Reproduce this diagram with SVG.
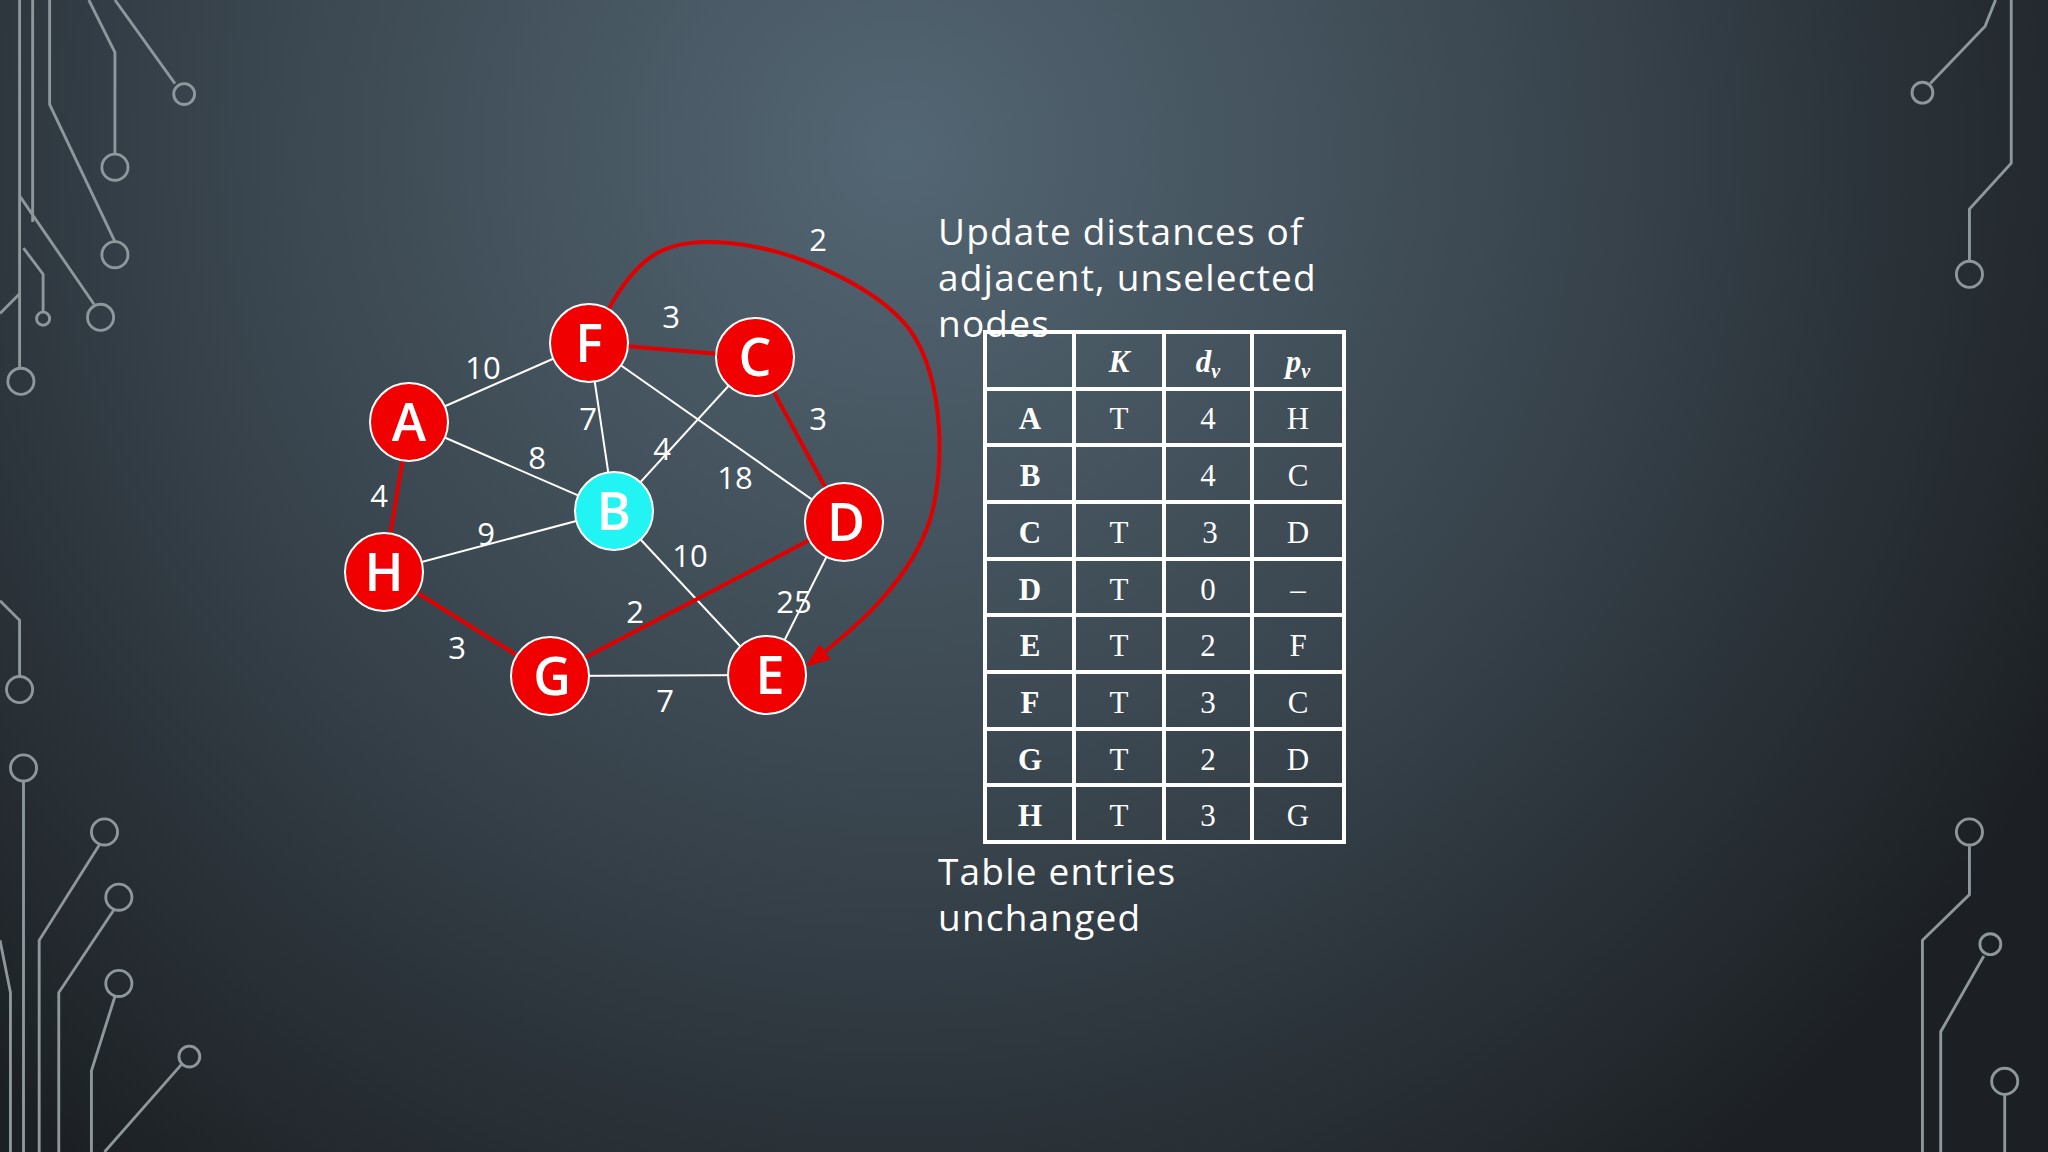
<svg xmlns="http://www.w3.org/2000/svg" width="2048" height="1152" viewBox="0 0 2048 1152">
<defs>
<radialGradient id="bg" cx="900" cy="150" r="1300" gradientUnits="userSpaceOnUse">
<stop offset="0" stop-color="#536673"/>
<stop offset="0.5" stop-color="#3a464f"/>
<stop offset="1" stop-color="#1c2024"/>
</radialGradient>
<marker id="arr" viewBox="0 0 10 10" refX="9" refY="5" markerWidth="6" markerHeight="6" orient="auto" markerUnits="strokeWidth">
<path d="M0,1 L10,5 L0,9 z" fill="#e00000"/>
</marker>
<style>
.w{stroke:#fff;stroke-width:2;fill:none}
.r{stroke:#e00000;stroke-width:4;fill:none}
.n{fill:#f00000;stroke:#fff;stroke-width:2}
.nl{font-family:"Open Sans","DejaVu Sans",sans-serif;font-size:52px;fill:#fff;text-anchor:middle;font-weight:600}
.el{font-family:"Open Sans","DejaVu Sans",sans-serif;font-size:31px;fill:#fff;text-anchor:middle}
.tx{font-family:"Open Sans","DejaVu Sans",sans-serif;font-size:37px;fill:#fff;letter-spacing:1.2px}
.tb{stroke:#fff;stroke-width:4;fill:none}
.tc{font-family:"Liberation Serif","Times New Roman",serif;font-size:31px;fill:#fff;text-anchor:middle}
.dc{stroke:#8e979c;stroke-width:2.2;fill:none}
</style>
</defs>
<rect width="2048" height="1152" fill="url(#bg)"/>
<g id="decor" class="dc" transform="scale(1.306)">
<path d="M15,0V282M25,0V170M38,0V80L88,185M68,0L88,40V118M88,0L134,64M15,150L72,233M18,190L33,210V239M0,240L15,225"/>
<circle cx="16" cy="292" r="10"/><circle cx="88" cy="195" r="10"/><circle cx="88" cy="128" r="10"/><circle cx="141" cy="72" r="8"/><circle cx="77" cy="243" r="10"/><circle cx="33" cy="244" r="5"/>
<path d="M1528,0L1520,20L1478,64M1540,0V125L1508,160V200"/>
<circle cx="1472" cy="71" r="8"/><circle cx="1508" cy="210" r="10"/>
<path d="M0,460L15,475V518M18,598V882M30,882V720L76,647M45,882V760L87,697M70,882V820L88,763M80,882L139,815M0,720L8,760V882"/>
<circle cx="15" cy="528" r="10"/><circle cx="18" cy="588" r="10"/><circle cx="80" cy="637" r="10"/><circle cx="91" cy="687" r="10"/><circle cx="91" cy="753" r="10"/><circle cx="145" cy="809" r="8"/>
<path d="M1472,882V720L1508,685V648M1486,882V790L1519,732M1535,882V838"/>
<circle cx="1508" cy="637" r="10"/><circle cx="1524" cy="723" r="8"/><circle cx="1535" cy="828" r="10"/>
</g>
<g id="connectors">
<line class="w" x1="409" y1="422" x2="589" y2="343"/>
<line class="w" x1="409" y1="422" x2="614" y2="511"/>
<line class="w" x1="589" y1="343" x2="614" y2="511"/>
<line class="w" x1="755" y1="357" x2="614" y2="511"/>
<line class="w" x1="589" y1="343" x2="844" y2="522"/>
<line class="w" x1="384" y1="572" x2="614" y2="511"/>
<line class="w" x1="614" y1="511" x2="767" y2="675"/>
<line class="w" x1="844" y1="522" x2="767" y2="675"/>
<line class="w" x1="550" y1="676" x2="767" y2="675"/>
<line class="r" x1="589" y1="343" x2="755" y2="357"/>
<line class="r" x1="755" y1="357" x2="844" y2="522"/>
<line class="r" x1="409" y1="422" x2="384" y2="572"/>
<line class="r" x1="384" y1="572" x2="550" y2="676"/>
<line class="r" x1="550" y1="676" x2="844" y2="522"/>
<path class="r" d="M607,312 C640,250 670,238 730,243 C800,250 880,290 910,330 C945,380 945,470 930,520 C910,580 860,625 808,665" marker-end="url(#arr)"/>
</g>
<g id="edge-labels">
<text class="el" x="818" y="251">2</text>
<text class="el" x="671" y="328">3</text>
<text class="el" x="483" y="379">10</text>
<text class="el" x="588" y="430">7</text>
<text class="el" x="818" y="430">3</text>
<text class="el" x="537" y="469">8</text>
<text class="el" x="662" y="460">4</text>
<text class="el" x="735" y="489">18</text>
<text class="el" x="379" y="507">4</text>
<text class="el" x="486" y="545">9</text>
<text class="el" x="690" y="567">10</text>
<text class="el" x="794" y="613">25</text>
<text class="el" x="635" y="623">2</text>
<text class="el" x="457" y="659">3</text>
<text class="el" x="665" y="712">7</text>
</g>
<g id="node-F"><circle class="n" cx="589" cy="343" r="39"/><text class="nl" x="589" y="362">F</text></g>
<g id="node-C"><circle class="n" cx="755" cy="357" r="39"/><text class="nl" x="755" y="376">C</text></g>
<g id="node-A"><circle class="n" cx="409" cy="422" r="39"/><text class="nl" x="409" y="441">A</text></g>
<g id="node-B"><circle cx="614" cy="511" r="39" fill="#22f4f4" stroke="#fff" stroke-width="2"/><text class="nl" x="614" y="530">B</text></g>
<g id="node-D"><circle class="n" cx="844" cy="522" r="39"/><text class="nl" x="846" y="541">D</text></g>
<g id="node-H"><circle class="n" cx="384" cy="572" r="39"/><text class="nl" x="384" y="591">H</text></g>
<g id="node-G"><circle class="n" cx="550" cy="676" r="39"/><text class="nl" x="552" y="695">G</text></g>
<g id="node-E"><circle class="n" cx="767" cy="675" r="39"/><text class="nl" x="770" y="694">E</text></g>
<g id="caption">
<text class="tx" x="938" y="245">Update distances of</text>
<text class="tx" x="938" y="291">adjacent, unselected</text>
<text class="tx" x="938" y="337">nodes</text>
<text class="tx" x="938" y="885">Table entries</text>
<text class="tx" x="938" y="931">unchanged</text>
</g>
<g id="table">
<rect class="tb" x="985" y="332" width="359" height="510"/>
<path class="tb" d="M1074,332V842M1164,332V842M1252,332V842M985,389H1344M985,445H1344M985,502H1344M985,559H1344M985,615H1344M985,672H1344M985,729H1344M985,785H1344"/>
<g class="tc">
<text x="1119" y="372" font-weight="bold" font-style="italic">K</text>
<text x="1208" y="372" font-weight="bold" font-style="italic">d<tspan font-size="20" dy="6">v</tspan></text>
<text x="1298" y="372" font-weight="bold" font-style="italic">p<tspan font-size="20" dy="6">v</tspan></text>
</g>
<g class="tc" font-weight="bold">
<text x="1030" y="429">A</text><text x="1030" y="486">B</text><text x="1030" y="543">C</text><text x="1030" y="600">D</text><text x="1030" y="656">E</text><text x="1030" y="713">F</text><text x="1030" y="770">G</text><text x="1030" y="826">H</text>
</g>
<g class="tc">
<text x="1119" y="429">T</text><text x="1119" y="543">T</text><text x="1119" y="600">T</text><text x="1119" y="656">T</text><text x="1119" y="713">T</text><text x="1119" y="770">T</text><text x="1119" y="826">T</text>
<text x="1208" y="429">4</text><text x="1208" y="486">4</text><text x="1210" y="543">3</text><text x="1208" y="600">0</text><text x="1208" y="656">2</text><text x="1208" y="713">3</text><text x="1208" y="770">2</text><text x="1208" y="826">3</text>
<text x="1298" y="429">H</text><text x="1298" y="486">C</text><text x="1298" y="543">D</text><text x="1298" y="600">–</text><text x="1298" y="656">F</text><text x="1298" y="713">C</text><text x="1298" y="770">D</text><text x="1298" y="826">G</text>
</g>
</g>
</svg>
